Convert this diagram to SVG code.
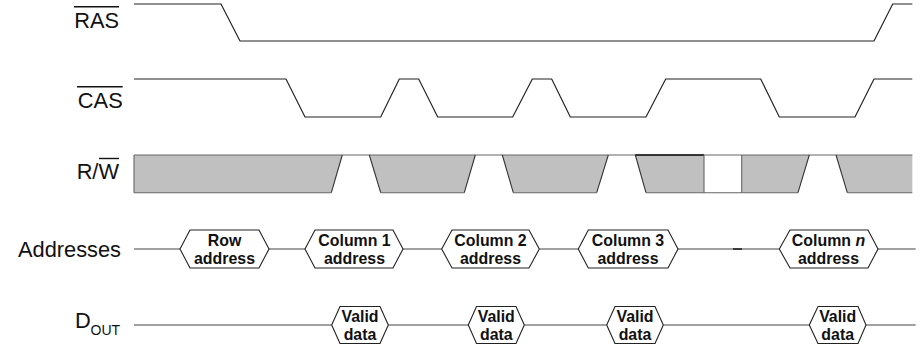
<svg xmlns="http://www.w3.org/2000/svg" width="923" height="344" viewBox="0 0 923 344">
<style>
  .lbl { font-family: "Liberation Sans", Arial, sans-serif; font-size: 21.8px; fill: #111; }
  .sub { font-family: "Liberation Sans", Arial, sans-serif; font-size: 14px; fill: #111; }
  .hx { font-family: "Liberation Sans", Arial, sans-serif; font-size: 15.9px; font-weight: bold; fill: #111; text-anchor: middle; }
  .wave { fill: none; stroke: #222; stroke-width: 1.2; stroke-linejoin: miter; }
  .ov { stroke: #111; stroke-width: 1.4; }
  .gray { fill: #c0c0c0; stroke: none; }
  .edge { fill: none; stroke: #333; stroke-width: 1.1; }
  .rail { fill: none; stroke: #666; stroke-width: 1.1; }
  .hex { fill: #fff; stroke: #222; stroke-width: 1.1; }
  .bus { fill: none; stroke: #444; stroke-width: 1.1; }
</style>

<g id="labels">
  <text class="lbl" x="119" y="28.3" text-anchor="end">RAS</text>
  <line class="ov" x1="74" y1="6.7" x2="119" y2="6.7"/>
  <text class="lbl" x="122.7" y="108.3" text-anchor="end">CAS</text>
  <line class="ov" x1="77" y1="86.7" x2="122.7" y2="86.7"/>
  <text class="lbl" x="119" y="179.3" text-anchor="end">R/W</text>
  <line class="ov" x1="99" y1="158.5" x2="119" y2="158.5"/>
  <text class="lbl" x="121" y="256.7" text-anchor="end">Addresses</text>
  <text class="lbl" x="75" y="328.3">D</text>
  <text class="sub" x="90.5" y="335">OUT</text>
</g>

<g id="ras">
  <path class="wave" d="M134,4 H221 L240,41 H874 L892.7,4 H912.3"/>
</g>

<g id="cas">
  <path class="wave" d="M134,79 H286 L305,117 H380.7 L399.3,79 H418.7 L437.7,117 H512.7 L532.3,79 H551.7 L570.3,117 H646 L665.7,79 H760.7 L779.3,117 H855 L874,79 H912.3"/>
</g>

<g id="rw">
  <polygon class="gray" points="134,155 342.3,155 331.3,192.7 134,192.7"/>
  <polygon class="gray" points="369.3,155 475.3,155 464.3,192.7 380.7,192.7"/>
  <polygon class="gray" points="502.3,155 608.3,155 596.7,192.7 513.3,192.7"/>
  <polygon class="gray" points="635.3,155 704,155 704,192.7 646,192.7"/>
  <polygon class="gray" points="741.7,155 809.3,155 798,192.7 741.7,192.7"/>
  <polygon class="gray" points="836,155 912.3,155 912.3,192.7 847.3,192.7"/>
  <line class="rail" x1="134" y1="155" x2="912.3" y2="155"/>
  <line x1="635.3" y1="155" x2="704" y2="155" stroke="#111" stroke-width="1.3"/>
  <path class="rail" d="M134,192.7 H331.3 M380.7,192.7 H464.3 M513.3,192.7 H596.7 M646,192.7 H798 M847.3,192.7 H912.3"/>
  <path class="rail" d="M134,155 V192.7 M704,155 V192.7 M741.7,155 V192.7" stroke="#aaa"/>
  <path class="edge" d="M342.3,155 L331.3,192.7 M369.3,155 L380.7,192.7 M475.3,155 L464.3,192.7 M502.3,155 L513.3,192.7 M608.3,155 L596.7,192.7 M635.3,155 L646,192.7 M809.3,155 L798,192.7 M836,155 L847.3,192.7"/>
</g>

<g id="connectors">
  <path class="bus" d="M134,249 H180 M269,249 H305 M403,249 H441.7 M539.3,249 H578.3 M678,249 H779.3 M878,249 H915.7"/>
  <line x1="733" y1="249" x2="742" y2="249" stroke="#222" stroke-width="1.6"/>
  <path class="bus" d="M134,325 H331.7 M388.3,325 H468.3 M524.3,325 H606.7 M663.3,325 H809.3 M866,325 H915.7"/>
</g>

<g id="row-address">
  <polygon class="hex" points="180,249 190,230 259,230 269,249 259,268 190,268"/>
  <text class="hx" x="224.5" y="245.5">Row</text>
  <text class="hx" x="224.5" y="264">address</text>
</g>
<g id="column1-address">
  <polygon class="hex" points="305,249 315,230 393,230 403,249 393,268 315,268"/>
  <text class="hx" x="354.5" y="245.5">Column 1</text>
  <text class="hx" x="354.5" y="264">address</text>
</g>
<g id="column2-address">
  <polygon class="hex" points="441.7,249 452,230 529,230 539.3,249 529,268 452,268"/>
  <text class="hx" x="490.5" y="245.5">Column 2</text>
  <text class="hx" x="490.5" y="264">address</text>
</g>
<g id="column3-address">
  <polygon class="hex" points="578.3,249 588.3,230 668,230 678,249 668,268 588.3,268"/>
  <text class="hx" x="628" y="245.5">Column 3</text>
  <text class="hx" x="628" y="264">address</text>
</g>
<g id="columnn-address">
  <polygon class="hex" points="779.3,249 790,230 868,230 878,249 868,268 790,268"/>
  <text class="hx" x="828.5" y="245.5">Column <tspan font-style="italic">n</tspan></text>
  <text class="hx" x="828.5" y="264">address</text>
</g>

<g id="valid-data-1">
  <polygon class="hex" points="331.7,325 340,306.5 380,306.5 388.3,325 380,343.5 340,343.5"/>
  <text class="hx" x="360" y="321.5">Valid</text>
  <text class="hx" x="360" y="340">data</text>
</g>
<g id="valid-data-2">
  <polygon class="hex" points="468.3,325 476.5,306.5 516,306.5 524.3,325 516,343.5 476.5,343.5"/>
  <text class="hx" x="496.3" y="321.5">Valid</text>
  <text class="hx" x="496.3" y="340">data</text>
</g>
<g id="valid-data-3">
  <polygon class="hex" points="606.7,325 615,306.5 655,306.5 663.3,325 655,343.5 615,343.5"/>
  <text class="hx" x="635" y="321.5">Valid</text>
  <text class="hx" x="635" y="340">data</text>
</g>
<g id="valid-data-n">
  <polygon class="hex" points="809.3,325 818,306.5 858,306.5 866,325 858,343.5 818,343.5"/>
  <text class="hx" x="837.7" y="321.5">Valid</text>
  <text class="hx" x="837.7" y="340">data</text>
</g>
</svg>
